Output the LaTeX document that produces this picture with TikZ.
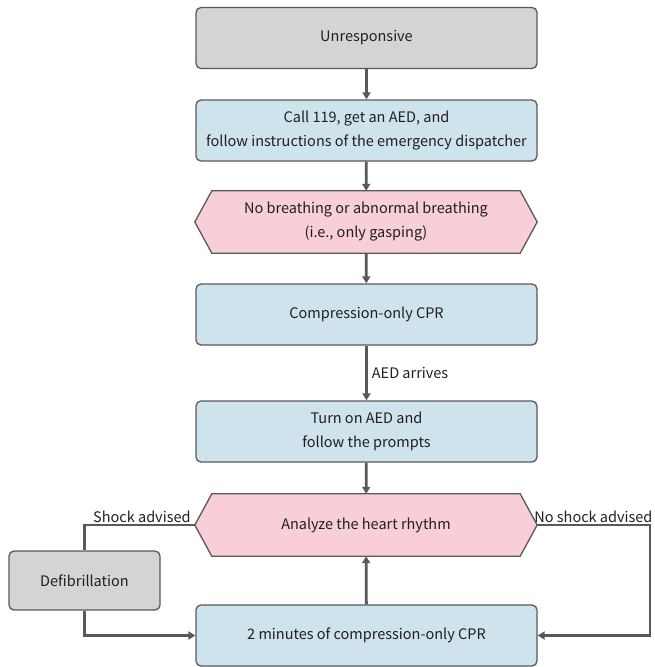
\documentclass[tikz,border=0pt]{standalone}
\usepackage{fontspec}
\setmainfont{Noto Sans CJK KR}
\usetikzlibrary{arrows.meta,backgrounds}
\definecolor{boxgray}{HTML}{D3D4D6}
\definecolor{boxblue}{HTML}{CEE3EB}
\definecolor{boxpink}{HTML}{F8CED7}
\definecolor{edgegray}{HTML}{58595B}
\definecolor{txt}{HTML}{231F20}
\begin{document}
\begin{tikzpicture}[x=1pt,y=-1pt,
  every node/.style={font=\fontsize{14.5}{24}\selectfont, text=txt},
  rbox/.style={draw=edgegray, line width=1.3pt, rounded corners=5pt, minimum width=341pt, minimum height=61pt, align=center, inner sep=0pt},
  graybox/.style={rbox, fill=boxgray},
  bluebox/.style={rbox, fill=boxblue},
  hexnode/.style={minimum width=342pt, minimum height=62pt, align=center, inner sep=0pt},
  hexfill/.style={draw=edgegray, line width=1.3pt, fill=boxpink, line join=miter},
  conn/.style={draw=edgegray, line width=2.8pt, -{Triangle[length=7pt,width=8pt]}},
  plainline/.style={draw=edgegray, line width=2.8pt},
  lbl/.style={inner sep=1pt}
]
\useasboundingbox (0,0) rectangle (654,667);

\node[graybox] (u) at (366.5,38) {Unresponsive};
\node[bluebox] (c) at (366.5,130.5) {Call 119, get an AED, and\\follow instructions of the emergency dispatcher};
\node[hexnode] (h1) at (366,222) {No breathing or abnormal breathing\\(i.e., only gasping)};
\node[bluebox] (p1) at (366.5,314.5) {Compression-only CPR};
\node[bluebox] (a) at (366.5,431.5) {Turn on AED and\\follow the prompts};
\node[hexnode] (h2) at (366,525) {Analyze the heart rhythm};
\node[bluebox] (p2) at (366.5,635.5) {2 minutes of compression-only CPR};
\node[graybox, minimum width=151pt, minimum height=59pt] (d) at (84.5,580.5) {Defibrillation};

\begin{scope}[on background layer]
\foreach \h in {h1,h2}{
\path[hexfill] (\h.west) -- ([xshift=17pt]\h.north west) -- ([xshift=-17pt]\h.north east) -- (\h.east) -- ([xshift=-17pt]\h.south east) -- ([xshift=17pt]\h.south west) -- cycle;
}
\end{scope}

\node[lbl, anchor=south east] (sl) at ([xshift=-3pt,yshift=1pt]h2.west) {Shock advised};
\node[lbl, inner sep=0pt, anchor=south west] (nl) at ([xshift=-3pt,yshift=2pt]h2.east) {No shock advised};

\draw[conn] (u) -- (c);
\draw[conn] (c) -- (h1);
\draw[conn] (h1) -- (p1);
\draw[conn] (p1) -- node[lbl, right, xshift=3pt] (al) {AED arrives} (a);
\draw[conn] (a) -- (h2);
\draw[conn] (p2) -- (h2);
\draw[plainline] (h2.west) -| (d.north);
\draw[conn] (d.south) |- (p2.west);
\coordinate (rc) at (650,525);
\draw[conn] (h2.east) -- (rc) |- (p2.east);
\end{tikzpicture}
\end{document}
